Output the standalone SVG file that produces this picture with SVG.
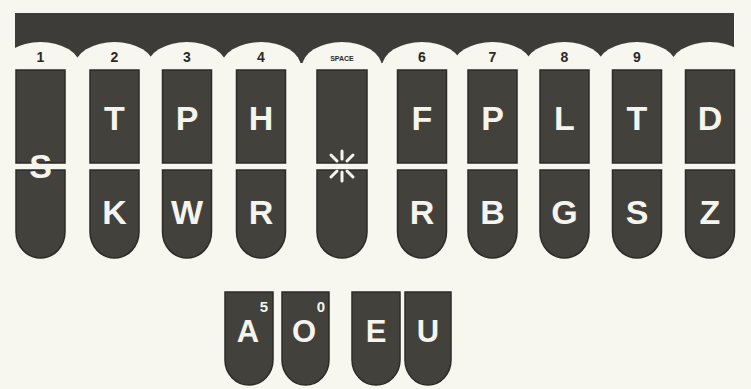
<svg xmlns="http://www.w3.org/2000/svg" width="751" height="389" viewBox="0 0 751 389">
<style>
.key{fill:#42413c;stroke:#2c2b28;stroke-width:1.5}
.bar{fill:#3d3c38}
.bump{fill:#f7f6ef}
.lt{font-family:"Liberation Sans",Arial,sans-serif;font-weight:bold;fill:#f5f4ee;text-anchor:middle}
.big{font-size:34px}
.vw{font-size:31px}
.sup{font-family:"Liberation Sans",Arial,sans-serif;font-weight:bold;fill:#f5f4ee;font-size:15px;text-anchor:middle}
.num{font-family:"Liberation Sans",Arial,sans-serif;font-weight:bold;fill:#2a2a27;font-size:14px;text-anchor:middle}
.sp{font-size:7px}
.star{stroke:#f5f4ee;stroke-width:3;stroke-linecap:round}
</style>
<rect width="751" height="389" fill="#f7f6ef"/>
<g id="bar">
<rect class="bar" x="15" y="13" width="719" height="50"/>
<ellipse class="bump" cx="40.5" cy="67" rx="40" ry="25"/>
<ellipse class="bump" cx="114.5" cy="67" rx="40" ry="25"/>
<ellipse class="bump" cx="187" cy="67" rx="40" ry="25"/>
<ellipse class="bump" cx="261" cy="67" rx="40" ry="25"/>
<ellipse class="bump" cx="342" cy="67" rx="40" ry="25"/>
<ellipse class="bump" cx="422" cy="67" rx="40" ry="25"/>
<ellipse class="bump" cx="492.5" cy="67" rx="40" ry="25"/>
<ellipse class="bump" cx="564.5" cy="67" rx="40" ry="25"/>
<ellipse class="bump" cx="637" cy="67" rx="40" ry="25"/>
<ellipse class="bump" cx="710" cy="67" rx="40" ry="25"/>
<rect x="734" y="13" width="17" height="60" fill="#f7f6ef"/>
<text class="num" x="40.5" y="62">1</text>
<text class="num" x="114.5" y="62">2</text>
<text class="num" x="187" y="62">3</text>
<text class="num" x="261" y="62">4</text>
<text class="num sp" x="342" y="61">SPACE</text>
<text class="num" x="422" y="62">6</text>
<text class="num" x="492.5" y="62">7</text>
<text class="num" x="564.5" y="62">8</text>
<text class="num" x="637" y="62">9</text>
</g>
<g id="key-S">
<rect class="key" x="16" y="70" width="49" height="93"/>
<path class="key" d="M16,170 H65 V232 A24.5,26 0 0 1 16,232 Z"/>
<text class="lt big" x="40.5" y="178">S</text>
</g>
<g id="key-T-K">
<rect class="key" x="90" y="70" width="49" height="93"/>
<path class="key" d="M90,170 H139 V232 A24.5,26 0 0 1 90,232 Z"/>
<text class="lt big" x="114.5" y="130">T</text>
<text class="lt big" x="114.5" y="224">K</text>
</g>
<g id="key-P-W">
<rect class="key" x="162.5" y="70" width="49" height="93"/>
<path class="key" d="M162.5,170 H211.5 V232 A24.5,26 0 0 1 162.5,232 Z"/>
<text class="lt big" x="187" y="130">P</text>
<text class="lt big" x="187" y="224">W</text>
</g>
<g id="key-H-R">
<rect class="key" x="236.5" y="70" width="49" height="93"/>
<path class="key" d="M236.5,170 H285.5 V232 A24.5,26 0 0 1 236.5,232 Z"/>
<text class="lt big" x="261" y="130">H</text>
<text class="lt big" x="261" y="224">R</text>
</g>
<g id="key-star">
<rect class="key" x="317" y="70" width="50" height="93"/>
<path class="key" d="M317,170 H367 V232 A25,26 0 0 1 317,232 Z"/>
<g class="star">
<line x1="342" y1="151" x2="342" y2="159"/>
<line x1="342" y1="172" x2="342" y2="181"/>
<line x1="327" y1="166" x2="335" y2="166"/>
<line x1="349" y1="166" x2="357" y2="166"/>
<line x1="331" y1="155" x2="337" y2="161"/>
<line x1="347" y1="171" x2="353" y2="177"/>
<line x1="353" y1="155" x2="347" y2="161"/>
<line x1="337" y1="171" x2="331" y2="177"/>
</g>
</g>
<g id="key-F-R">
<rect class="key" x="397.5" y="70" width="49" height="93"/>
<path class="key" d="M397.5,170 H446.5 V232 A24.5,26 0 0 1 397.5,232 Z"/>
<text class="lt big" x="422" y="130">F</text>
<text class="lt big" x="422" y="224">R</text>
</g>
<g id="key-P-B">
<rect class="key" x="468" y="70" width="49" height="93"/>
<path class="key" d="M468,170 H517 V232 A24.5,26 0 0 1 468,232 Z"/>
<text class="lt big" x="492.5" y="130">P</text>
<text class="lt big" x="492.5" y="224">B</text>
</g>
<g id="key-L-G">
<rect class="key" x="540" y="70" width="49" height="93"/>
<path class="key" d="M540,170 H589 V232 A24.5,26 0 0 1 540,232 Z"/>
<text class="lt big" x="564.5" y="130">L</text>
<text class="lt big" x="564.5" y="224">G</text>
</g>
<g id="key-T-S">
<rect class="key" x="612.5" y="70" width="49" height="93"/>
<path class="key" d="M612.5,170 H661.5 V232 A24.5,26 0 0 1 612.5,232 Z"/>
<text class="lt big" x="637" y="130">T</text>
<text class="lt big" x="637" y="224">S</text>
</g>
<g id="key-D-Z">
<rect class="key" x="685.5" y="70" width="49" height="93"/>
<path class="key" d="M685.5,170 H734.5 V232 A24.5,26 0 0 1 685.5,232 Z"/>
<text class="lt big" x="710" y="130">D</text>
<text class="lt big" x="710" y="224">Z</text>
</g>
<g id="key-A">
<path class="key" d="M225,292 H273 V360 A24,25 0 0 1 225,360 Z"/>
<text class="lt vw" x="248" y="342">A</text>
<text class="sup" x="264" y="312">5</text>
</g>
<g id="key-O">
<path class="key" d="M282,292 H329 V360 A23.5,25 0 0 1 282,360 Z"/>
<text class="lt vw" x="304" y="342">O</text>
<text class="sup" x="321" y="312">0</text>
</g>
<g id="key-E">
<path class="key" d="M352,292 H400 V360 A24,25 0 0 1 352,360 Z"/>
<text class="lt vw" x="376" y="342">E</text>
</g>
<g id="key-U">
<path class="key" d="M405,292 H451 V360 A23,25 0 0 1 405,360 Z"/>
<text class="lt vw" x="428" y="342">U</text>
</g>
<g id="connectors"/>
</svg>
